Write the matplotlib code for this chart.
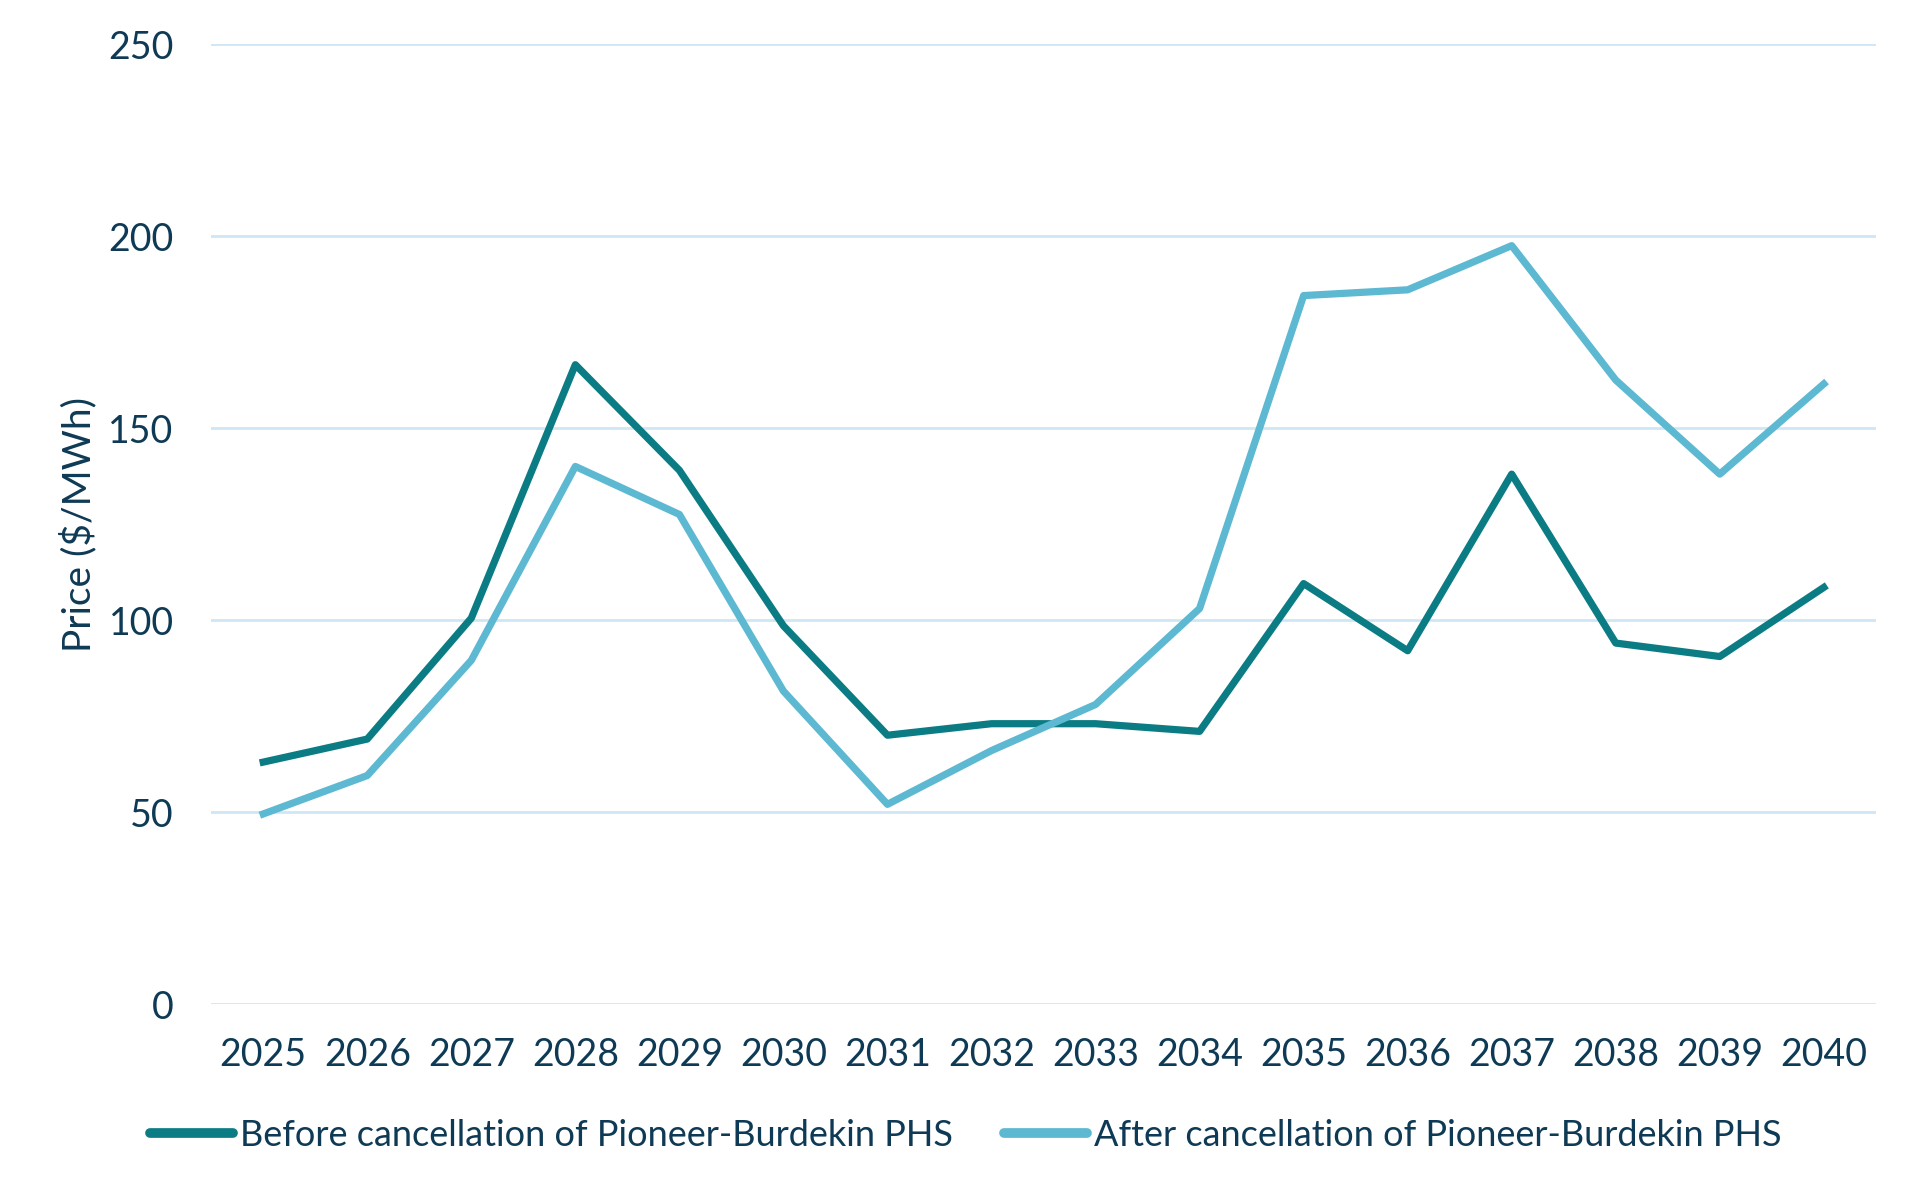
import numpy as np
import matplotlib.pyplot as plt

## Data
years = ['2025', '2026', '2027', '2028', '2029', '2030', '2031', '2032',
         '2033', '2034', '2035', '2036', '2037', '2038', '2039', '2040']
before = [63, 69, 100.5, 166.5, 139, 98.5, 70, 73, 73, 71, 109.5, 92, 138, 94, 90.5, 108.5]
after = [49.5, 59.5, 89.5, 140, 127.5, 81.5, 52, 66, 78, 103, 184.5, 186, 197.5, 162.5, 138, 161.5]

dark = '#0b7c84'
light = '#5db8d1'
text_col = '#0f3a55'
grid_col = '#cfe6f5'

plt.rcParams['font.family'] = ['Lato', 'DejaVu Sans']

fig = plt.figure(figsize=(19.2, 11.91), dpi=100, facecolor='w')
ax = fig.add_axes([0.110, 0.157, 0.867, 0.806])

x = np.arange(len(years))
ax.plot(x, before, color=dark, linewidth=5.2, solid_joinstyle='round',
        label='Before cancellation of Pioneer-Burdekin PHS', zorder=3)
ax.plot(x, after, color=light, linewidth=5.2, solid_joinstyle='round',
        label='After cancellation of Pioneer-Burdekin PHS', zorder=3)

ax.set_xlim(-0.5, len(years) - 0.5)
ax.set_ylim(0, 250)
ax.set_yticks([0, 50, 100, 150, 200, 250])
ax.set_xticks(x)
ax.set_xticklabels(years)
ax.grid(axis='y', color=grid_col, linewidth=2)
ax.set_axisbelow(True)
for s in ax.spines.values():
    s.set_visible(False)
ax.tick_params(axis='both', length=0, labelsize=27, colors=text_col)
ax.tick_params(axis='y', pad=27)
ax.tick_params(axis='x', pad=24)
ax.set_ylabel('Price ($/MWh)', fontsize=28, color=text_col, labelpad=8)

leg = fig.legend(loc='center', bbox_to_anchor=(0.503, 0.047), ncol=2, frameon=False,
                 fontsize=26, handlelength=2.3, handletextpad=0.2, columnspacing=1.4)
for t in leg.get_texts():
    t.set_color(text_col)
for h in leg.get_lines():
    h.set_linewidth(7)
    h.set_solid_capstyle('round')

fig.savefig('out.png', dpi=100, facecolor='w')
